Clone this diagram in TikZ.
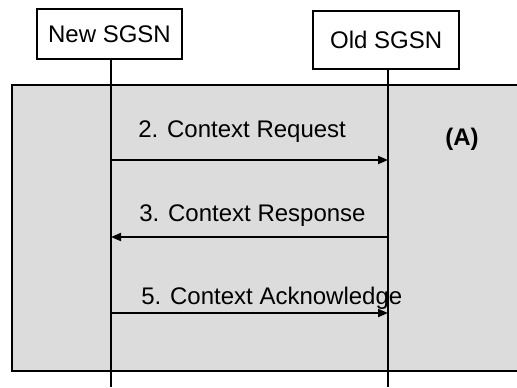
\documentclass[tikz,border=0pt]{standalone}
\usepackage{fontspec}
\setmainfont{Liberation Sans}
\usetikzlibrary{arrows.meta, positioning, calc}
\definecolor{panelgray}{RGB}{220, 220, 220}
\tikzset{
  >=Stealth,
  msgarrow/.style={-{Triangle[length=7.5pt, width=6pt]}, line width=1.4pt, black},
  lifeline/.style={line width=1.4pt, black}
}

\begin{document}
\begin{tikzpicture}[x=0.75pt, y=-0.75pt,
    entbox/.style={rectangle, draw=black, line width=1.3pt, fill=white, font=\fontsize{18}{21.6}\selectfont, inner sep=0pt, align=center},
    msglabel/.style={font=\fontsize{18}{21.6}\selectfont, inner sep=0pt, anchor=base west},
    tagtext/.style={font=\fontsize{18}{21.6}\selectfont\bfseries, inner sep=0pt, anchor=base west},
    panelbox/.style={draw=black, line width=1.4pt, fill=panelgray}
]
    % Page frame: 517 x 387 px
    \useasboundingbox (0,0) rectangle (517,387);
    \clip (0,0) rectangle (517,387);

    % Entities at the top
    \node[entbox, minimum width=108.4pt, minimum height=37.5pt] (new) at (109.5, 34) {New SGSN};
    \node[entbox, minimum width=109.5pt, minimum height=43.5pt] (old) at (386.2, 40) {Old SGSN};

    % Grey panel (A), right edge runs off the page
    \draw[panelbox] (12, 85) rectangle (540, 371);

    % Lifelines
    \coordinate (newtop) at (111, 59.3);
    \coordinate (newend) at (111, 387);
    \coordinate (oldtop) at (388, 69.3);
    \coordinate (oldend) at (388, 387);
    \draw[lifeline] (newtop) -- (newend);
    \draw[lifeline] (oldtop) -- (oldend);

    % Message points on the lifelines at y = 160, 237, 313
    \coordinate (new2) at (newtop |- 0, 160);
    \coordinate (old2) at (oldtop |- 0, 160);
    \coordinate (new3) at (newtop |- 0, 237);
    \coordinate (old3) at (oldtop |- 0, 237);
    \coordinate (new5) at (newtop |- 0, 313);
    \coordinate (old5) at (oldtop |- 0, 313);

    % Messages
    \node[msglabel] (lbl2) at (138, 137) {2. Context Request};
    \draw[msgarrow] (new2) -- (old2);

    \node[msglabel] (lbl3) at (139, 221) {3. Context Response};
    \draw[msgarrow] (old3) -- (new3);

    \node[msglabel] (lbl5) at (141, 304) {5. Context Acknowledge};
    \draw[msgarrow] (new5) -- (old5);

    % Panel tag
    \node[tagtext] (tagA) at (445, 145) {(A)};
\end{tikzpicture}
\end{document}
